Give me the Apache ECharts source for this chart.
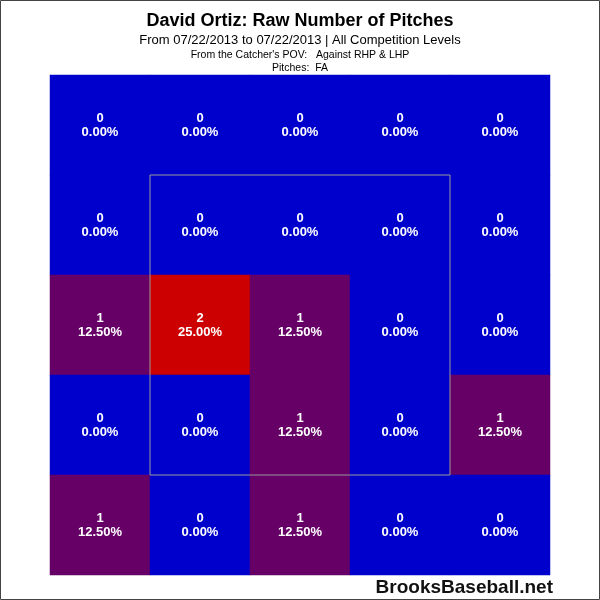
<!DOCTYPE html>
<html><head><meta charset="utf-8">
<script src="https://cdn.jsdelivr.net/npm/echarts@6/dist/echarts.min.js"></script>
<style>html,body{margin:0;padding:0;background:#fff}#c{width:600px;height:600px}</style>
</head><body><div id="c"></div>
<script>
const xCats = ['c0','c1','c2','c3','c4'];
const yCats = ['r0','r1','r2','r3','r4']; // top to bottom
const counts = [
  [0,0,0,0,0],
  [0,0,0,0,0],
  [1,2,1,0,0],
  [0,0,1,0,1],
  [1,0,1,0,0]
];
const zoneX = [1,4,4,1,1];
const zoneY = [1,1,4,4,1];
const total = counts.flat().reduce((a,b)=>a+b,0);
const data = [];
counts.forEach((row,r)=>row.forEach((v,c)=>data.push([c,r,v])));
const zone = zoneX.map((x,i)=>[x,zoneY[i]]);
const FONT = '"Liberation Sans", Arial, sans-serif';
const chart = echarts.init(document.getElementById('c'), null, {renderer:'canvas'});
chart.setOption({
  animation:false,
  backgroundColor:'#fff',
  title:[
    {text:'David Ortiz: Raw Number of Pitches', left:'center', top:12, padding:0, textStyle:{fontFamily:FONT,fontSize:18,fontWeight:'bold',color:'#000'}},
    {text:'From 07/22/2013 to 07/22/2013 | All Competition Levels', left:'center', top:34, padding:0, textStyle:{fontFamily:FONT,fontSize:13,fontWeight:'normal',color:'#000'}},
    {text:"From the Catcher's POV:   Against RHP & LHP", left:'center', top:50, padding:0, textStyle:{fontFamily:FONT,fontSize:10.5,fontWeight:'normal',color:'#000'}},
    {text:'Pitches:  FA', left:'center', top:63, padding:0, textStyle:{fontFamily:FONT,fontSize:10.5,fontWeight:'normal',color:'#000'}}
  ],
  graphic:[
    {type:'rect', shape:{x:0.5,y:0.5,width:599,height:599}, style:{fill:'none',stroke:'#444',lineWidth:1}, z:100},
    {type:'text', right:47, top:578, style:{text:'BrooksBaseball.net', font:'bold 19px '+FONT, fill:'#111'}}
  ],
  grid:{left:50, top:75, width:500, height:500},
  xAxis:[
    {type:'category', data:xCats, show:false},
    {type:'value', min:0, max:5, show:false}
  ],
  yAxis:[
    {type:'category', data:yCats, inverse:true, show:false},
    {type:'value', min:0, max:5, inverse:true, show:false}
  ],
  visualMap:{type:'piecewise', show:false, dimension:2, seriesIndex:0,
    pieces:[{value:0,color:'#0000CC'},{value:1,color:'#660066'},{value:2,color:'#CC0000'}]},
  series:[
    {type:'heatmap', data:data, xAxisIndex:0, yAxisIndex:0,
     label:{show:true, color:'#fff', fontFamily:FONT, fontSize:13, fontWeight:'bold', lineHeight:14,
       formatter:p=>p.value[2]+'\n'+(p.value[2]/total*100).toFixed(2)+'%'},
     itemStyle:{borderWidth:0}},
    {type:'line', data:zone, xAxisIndex:1, yAxisIndex:1, symbol:'none', silent:true, z:5,
     lineStyle:{color:'#999', width:1}}
  ]
});
</script></body></html>
